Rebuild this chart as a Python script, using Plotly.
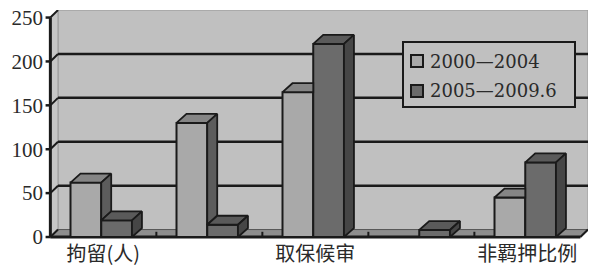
import plotly.graph_objects as go

# ---- data ----
categories = ["拘留(人)", "", "取保候审", "", "非羁押比例"]
series_names = ["2000—2004", "2005—2009.6"]
values_a = [62, 130, 165, 0, 45]
values_b = [19, 14, 220, 8, 85]
y_ticks = [0, 50, 100, 150, 200, 250]

# ---- style ----
C_WALL = "#c0c0c0"
C_SIDEWALL = "#c6c6c6"
C_FLOOR = "#8e8e8e"
A_FRONT, A_TOP, A_SIDE = "#a9a9a9", "#858585", "#5c5c5c"
B_FRONT, B_TOP, B_SIDE = "#6b6b6b", "#5a5a5a", "#464646"
EDGE = "#1a1a1a"

XR = [-0.56, 4.572]
YR = [-3.4, 258.6]
WDX, WDY = 0.072, 8.5      # wall depth (data units)
BDX, BDY = 0.094, 10.2     # bar depth (data units)
W = 0.29
SPLIT = -0.02
YMAX = 250

fig = go.Figure()

def path(pts):
    return "M " + " L ".join(f"{x},{y}" for x, y in pts) + " Z"

shapes = []
# back wall
shapes.append(dict(type="rect", xref="x", yref="y", x0=-0.5 + WDX, x1=4.5 + WDX,
                   y0=WDY, y1=YMAX + WDY, fillcolor=C_WALL,
                   line=dict(color="#9a9a9a", width=1), layer="below"))
# left wall
shapes.append(dict(type="path", xref="x", yref="y",
                   path=path([(-0.5, 0), (-0.5, YMAX), (-0.5 + WDX, YMAX + WDY), (-0.5 + WDX, WDY)]),
                   fillcolor=C_SIDEWALL, line=dict(color="#9a9a9a", width=1), layer="below"))
# floor
shapes.append(dict(type="path", xref="x", yref="y",
                   path=path([(-0.5, 0), (4.5, 0), (4.5 + WDX, WDY), (-0.5 + WDX, WDY)]),
                   fillcolor=C_FLOOR, line=dict(color="#555555", width=1), layer="below"))
# gridlines on back wall and left wall
for v in y_ticks[1:-1]:
    shapes.append(dict(type="line", xref="x", yref="y", x0=-0.5 + WDX, x1=4.5 + WDX,
                       y0=v + WDY, y1=v + WDY, line=dict(color=EDGE, width=2.5), layer="below"))
for v in y_ticks:
    shapes.append(dict(type="line", xref="x", yref="y", x0=-0.5, x1=-0.5 + WDX,
                       y0=v, y1=v + WDY, line=dict(color=EDGE, width=2), layer="below"))
    shapes.append(dict(type="line", xref="x", yref="y", x0=-0.545, x1=-0.5,
                       y0=v, y1=v, line=dict(color=EDGE, width=2.5), layer="below"))
# category boundary ticks on floor
for b in [0.5, 1.5, 2.5, 3.5]:
    shapes.append(dict(type="line", xref="x", yref="y", x0=b, x1=b, y0=0, y1=WDY * 0.7,
                       line=dict(color=EDGE, width=2), layer="below"))
# front axes
shapes.append(dict(type="line", xref="x", yref="y", x0=-0.5, x1=-0.5, y0=0, y1=YMAX,
                   line=dict(color=EDGE, width=3), layer="below"))
shapes.append(dict(type="line", xref="x", yref="y", x0=-0.5, x1=4.5, y0=0, y1=0,
                   line=dict(color=EDGE, width=3), layer="below"))
shapes.append(dict(type="line", xref="x", yref="y", x0=4.5, x1=4.5 + WDX, y0=0, y1=WDY,
                   line=dict(color=EDGE, width=2), layer="below"))

# ---- bars: front faces ----
xs = list(range(len(categories)))
fig.add_trace(go.Bar(x=xs, y=values_a, width=W, offset=SPLIT - W, name=series_names[0],
                     marker=dict(color=A_FRONT, line=dict(color=EDGE, width=2)),
                     showlegend=False, hoverinfo="skip"))
fig.add_trace(go.Bar(x=xs, y=values_b, width=W, offset=SPLIT, name=series_names[1],
                     marker=dict(color=B_FRONT, line=dict(color=EDGE, width=2)),
                     showlegend=False, hoverinfo="skip"))

def face(pts, color):
    px = [p[0] for p in pts] + [pts[0][0]]
    py = [p[1] for p in pts] + [pts[0][1]]
    fig.add_trace(go.Scatter(x=px, y=py, mode="lines", fill="toself", fillcolor=color,
                             line=dict(color=EDGE, width=1.8), showlegend=False,
                             hoverinfo="skip"))

for i, (a, d) in enumerate(zip(values_a, values_b)):
    s = i + SPLIT
    if a > 0:
        if d > a:
            face([(s - W, a), (s, a), (s, a + BDY), (s - W + BDX, a + BDY)], A_TOP)
        else:
            face([(s - W, a), (s, a), (s + BDX, a + BDY), (s - W + BDX, a + BDY)], A_TOP)
            face([(s, d), (s, a), (s + BDX, a + BDY), (s + BDX, d + BDY)], A_SIDE)
    if d > 0:
        face([(s, d), (s + W, d), (s + W + BDX, d + BDY), (s + BDX, d + BDY)], B_TOP)
        face([(s + W, 0), (s + W, d), (s + W + BDX, d + BDY), (s + W + BDX, BDY)], B_SIDE)

# ---- manual legend (pixel positions converted to paper coords) ----
L, T, PW, PH = 44, 10, 544, 230
def px2x(p): return (p - L) / PW
def py2y(p): return 1 - (p - T) / PH

shapes.append(dict(type="rect", xref="paper", yref="paper",
                   x0=px2x(403), x1=px2x(575), y0=py2y(42), y1=py2y(107),
                   fillcolor=C_WALL, line=dict(color=EDGE, width=2)))
annotations = []
for k, (name, col) in enumerate(zip(series_names, [A_FRONT, B_FRONT])):
    cy = 61 + k * 30
    shapes.append(dict(type="rect", xref="paper", yref="paper",
                       x0=px2x(411), x1=px2x(423), y0=py2y(cy - 6), y1=py2y(cy + 6),
                       fillcolor=col, line=dict(color=EDGE, width=2)))
    annotations.append(dict(xref="paper", yref="paper", x=px2x(428), y=py2y(cy),
                            xanchor="left", yanchor="middle", text=name, showarrow=False,
                            font=dict(family="DejaVu Serif, Noto Sans CJK SC", size=18,
                                      color="#2a2a2a")))

tick_pos = [i for i, c in enumerate(categories) if c]
tick_txt = [c for c in categories if c]

fig.update_layout(
    width=590, height=267,
    margin=dict(l=L, r=2, t=T, b=27, autoexpand=False),
    paper_bgcolor="white", plot_bgcolor="white",
    barmode="overlay",
    shapes=shapes, annotations=annotations,
    showlegend=False,
    xaxis=dict(range=XR, showgrid=False, zeroline=False, showline=False, automargin=False,
               tickvals=tick_pos, ticktext=tick_txt, ticks="", ticklabelstandoff=0,
               tickfont=dict(family="Noto Sans CJK SC", size=20, color="#2a2a2a")),
    yaxis=dict(range=YR, showgrid=False, zeroline=False, showline=False, automargin=False,
               tickvals=y_ticks, ticks="",
               tickfont=dict(family="Liberation Serif", size=21, color="#2a2a2a")),
)

fig.write_html("out.html", post_script="document.body.style.margin='0px';",
               config={"displayModeBar": False})
